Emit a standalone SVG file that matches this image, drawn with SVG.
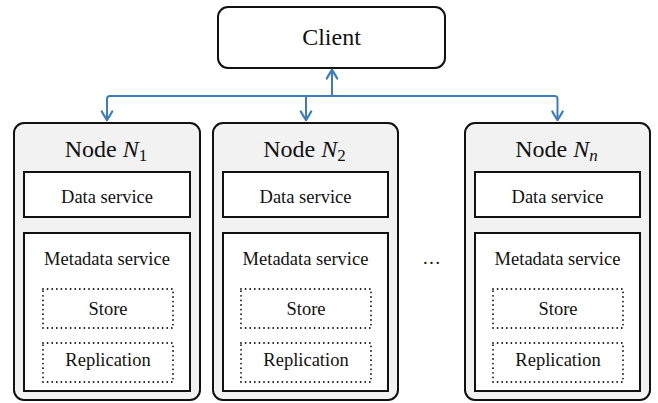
<svg xmlns="http://www.w3.org/2000/svg" width="658" height="403" viewBox="0 0 658 403">
<defs>
<style>
.node{fill:#f2f2f2;stroke:#111;stroke-width:2}
.box{fill:#fff;stroke:#111;stroke-width:2}
.dot{fill:none;stroke:#111;stroke-width:1.8;stroke-dasharray:0 4.6;stroke-linecap:round}
.t{fill:#111;text-anchor:middle}
.big{font-size:24px}
.sm{font-size:18.5px}
.conn{fill:none;stroke:#3b7dbf;stroke-width:2}
</style>
<marker id="ah" markerUnits="userSpaceOnUse" markerWidth="16" markerHeight="16" viewBox="-12 -8 14 16" refX="0" refY="0" orient="auto">
<path d="M-8.5,-5.2 Q-2.5,-1.8 0,0 Q-2.5,1.8 -8.5,5.2" fill="none" stroke="#3b7dbf" stroke-width="2.2" stroke-linecap="round" stroke-linejoin="round"/>
</marker>
</defs>

<g font-family="Liberation Serif, Times New Roman, Times, serif">
<g id="client">
<rect x="218" y="7" width="227" height="61" rx="10" class="box"/>
<text x="331.5" y="45" class="t big">Client</text>
</g>

<g id="connectors">
<path class="conn" d="M107,120 V99 Q107,96 110,96 H554.5 Q557.5,96 557.5,99 V120" marker-end="url(#ah)"/>
<path class="conn" d="M107,99 V120" marker-end="url(#ah)"/>
<path class="conn" d="M306,96 V120" marker-end="url(#ah)"/>
<path class="conn" d="M332,96 V70" marker-end="url(#ah)"/>
</g>

<g id="node1">
<rect x="14" y="123" width="186" height="277" rx="10" class="node"/>
<text x="106" y="157" class="t big">Node <tspan font-style="italic">N</tspan><tspan font-size="17" dy="4">1</tspan></text>
<rect x="24" y="172" width="166" height="45" class="box"/>
<text x="107" y="203" class="t sm">Data service</text>
<rect x="24" y="233" width="166" height="158" class="box"/>
<text x="107" y="265" class="t sm">Metadata service</text>
<rect x="43" y="289" width="130" height="39" class="dot"/>
<text x="108" y="315" class="t sm">Store</text>
<rect x="43" y="343" width="130" height="39" class="dot"/>
<text x="108" y="366" class="t sm">Replication</text>
</g>

<g id="node2">
<rect x="213" y="123" width="185" height="277" rx="10" class="node"/>
<text x="304.5" y="157" class="t big">Node <tspan font-style="italic">N</tspan><tspan font-size="17" dy="4">2</tspan></text>
<rect x="223" y="172" width="165" height="45" class="box"/>
<text x="305.5" y="203" class="t sm">Data service</text>
<rect x="223" y="233" width="165" height="158" class="box"/>
<text x="305.5" y="265" class="t sm">Metadata service</text>
<rect x="241" y="289" width="130" height="39" class="dot"/>
<text x="306" y="315" class="t sm">Store</text>
<rect x="241" y="343" width="130" height="39" class="dot"/>
<text x="306" y="366" class="t sm">Replication</text>
</g>

<text x="431.5" y="264" class="t sm">…</text>

<g id="nodeN">
<rect x="465" y="123" width="185" height="277" rx="10" class="node"/>
<text x="556.5" y="157" class="t big">Node <tspan font-style="italic">N</tspan><tspan font-size="17" font-style="italic" dy="4">n</tspan></text>
<rect x="475" y="172" width="165" height="45" class="box"/>
<text x="557.5" y="203" class="t sm">Data service</text>
<rect x="475" y="233" width="165" height="158" class="box"/>
<text x="557.5" y="265" class="t sm">Metadata service</text>
<rect x="493" y="289" width="130" height="39" class="dot"/>
<text x="558" y="315" class="t sm">Store</text>
<rect x="493" y="343" width="130" height="39" class="dot"/>
<text x="558" y="366" class="t sm">Replication</text>
</g>
</g>
</svg>
